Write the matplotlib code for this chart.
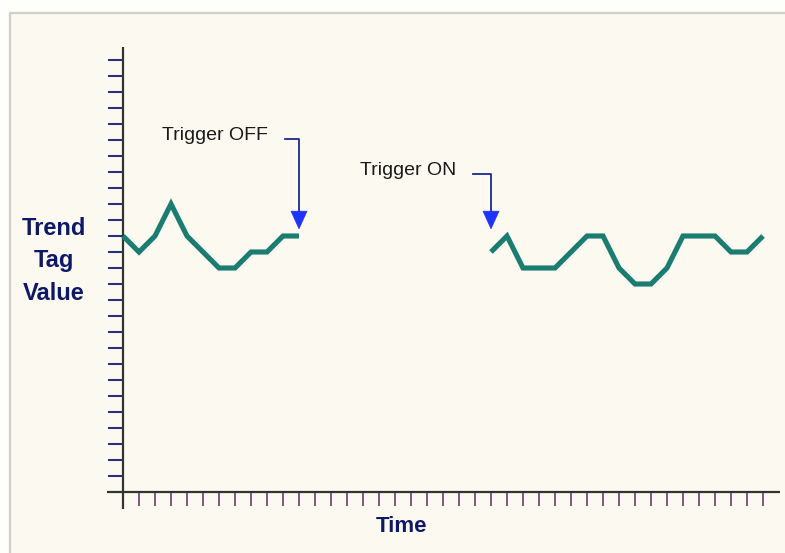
import numpy as np
import matplotlib
matplotlib.use("Agg")
import matplotlib.pyplot as plt
from matplotlib.patches import Rectangle, Polygon

# --- data -------------------------------------------------------------
time = list(range(41))
tag_value = [16, 15, 16, 18, 16, 15, 14, 14, 15, 15, 16, 16,
             np.nan, np.nan, np.nan, np.nan, np.nan, np.nan, np.nan,
             np.nan, np.nan, np.nan, np.nan,
             15, 16, 14, 14, 14, 15, 16, 16, 14, 13, 13, 14, 16, 16,
             16, 15, 15, 16]
trigger_labels = ["Trigger OFF", "Trigger ON"]
trigger_times = [11, 23]
y_label_lines = ["Trend", "Tag", "Value"]
x_label = "Time"

# --- styling ------------------------------------------------------------
W, H, DPI = 785, 553, 100
CREAM = "#FCFAF0"
NAVY_TEXT = "#0e1868"
TICK_Y = "#26317e"
TICK_X = "#6e3a70"
LINE = "#1b7d72"
ARROW = "#1c2a8c"
HEAD = "#1f33ff"

fig = plt.figure(figsize=(W / DPI, H / DPI), dpi=DPI)
fig.patch.set_facecolor("#FEFEFB")

# panel frame
frame = Rectangle((10 / W, -0.05), 1.2, 1 - 13 / H + 0.05,
                  transform=fig.transFigure, facecolor=CREAM,
                  edgecolor="#CFCFC8", linewidth=1.6, zorder=-10)
fig.patches.append(frame)

# plot area: one grid unit = 16 px
x0, y0, unit = 123, 492, 16
x_max = (780 - x0) / unit
y_max = (y0 - 47) / unit
ax = fig.add_axes([x0 / W, (H - y0) / H, (780 - x0) / W, (y0 - 47) / H])
ax.set_zorder(1)
ax.set_xlim(0, x_max)
ax.set_ylim(0, y_max)
ax.patch.set_alpha(0)
for s in ax.spines.values():
    s.set_visible(False)

# axis lines
ax.plot([-1.0, x_max], [0, 0], color="#333333", lw=1.6, clip_on=False,
        solid_capstyle="butt")
ax.plot([0, 0], [-1.06, y_max], color="#333333", lw=1.6, clip_on=False,
        solid_capstyle="butt")

ax.set_yticks(range(1, 28))
ax.set_xticks(range(1, 41))
ax.tick_params(axis="y", direction="out", length=10.8, width=1.5,
               color=TICK_Y, labelleft=False)
ax.tick_params(axis="x", direction="out", length=10.0, width=1.2,
               color=TICK_X, labelbottom=False)

# trend line
ax.plot(time, tag_value, color=LINE, lw=3.7, solid_joinstyle="miter",
        solid_capstyle="butt", clip_on=False, zorder=3)

# trigger markers
label_right = [9.06, 20.8]
label_y = [22.25, 20.1]
for name, t, lx, ly in zip(trigger_labels, trigger_times, label_right, label_y):
    ax.text(lx, ly, name, ha="right", va="center", fontsize=14,
            family="Liberation Sans", color="#1a1a1a")
    ax.plot([lx + 1.05, t, t], [ly - 0.2, ly - 0.2, 17.2], color=ARROW,
            lw=1.3, clip_on=False, zorder=4)
    ax.add_patch(Polygon([[t - 0.5, 17.55], [t + 0.5, 17.55], [t, 16.45]],
                         closed=True, facecolor=HEAD, edgecolor=HEAD,
                         lw=0.5, zorder=5, clip_on=False))

# axis titles
for i, line in enumerate(y_label_lines):
    fig.text(54 / W, 1 - (229 + 32 * i) / H, line, ha="center", va="center",
             fontsize=17, fontweight="bold", family="Liberation Sans",
             color=NAVY_TEXT, zorder=2)
fig.text(402 / W, 1 - 527 / H, x_label, ha="center", va="center",
         fontsize=16, fontweight="bold", family="Liberation Sans",
         color=NAVY_TEXT, zorder=2)

fig.savefig("out.png", dpi=DPI, facecolor=fig.get_facecolor())
